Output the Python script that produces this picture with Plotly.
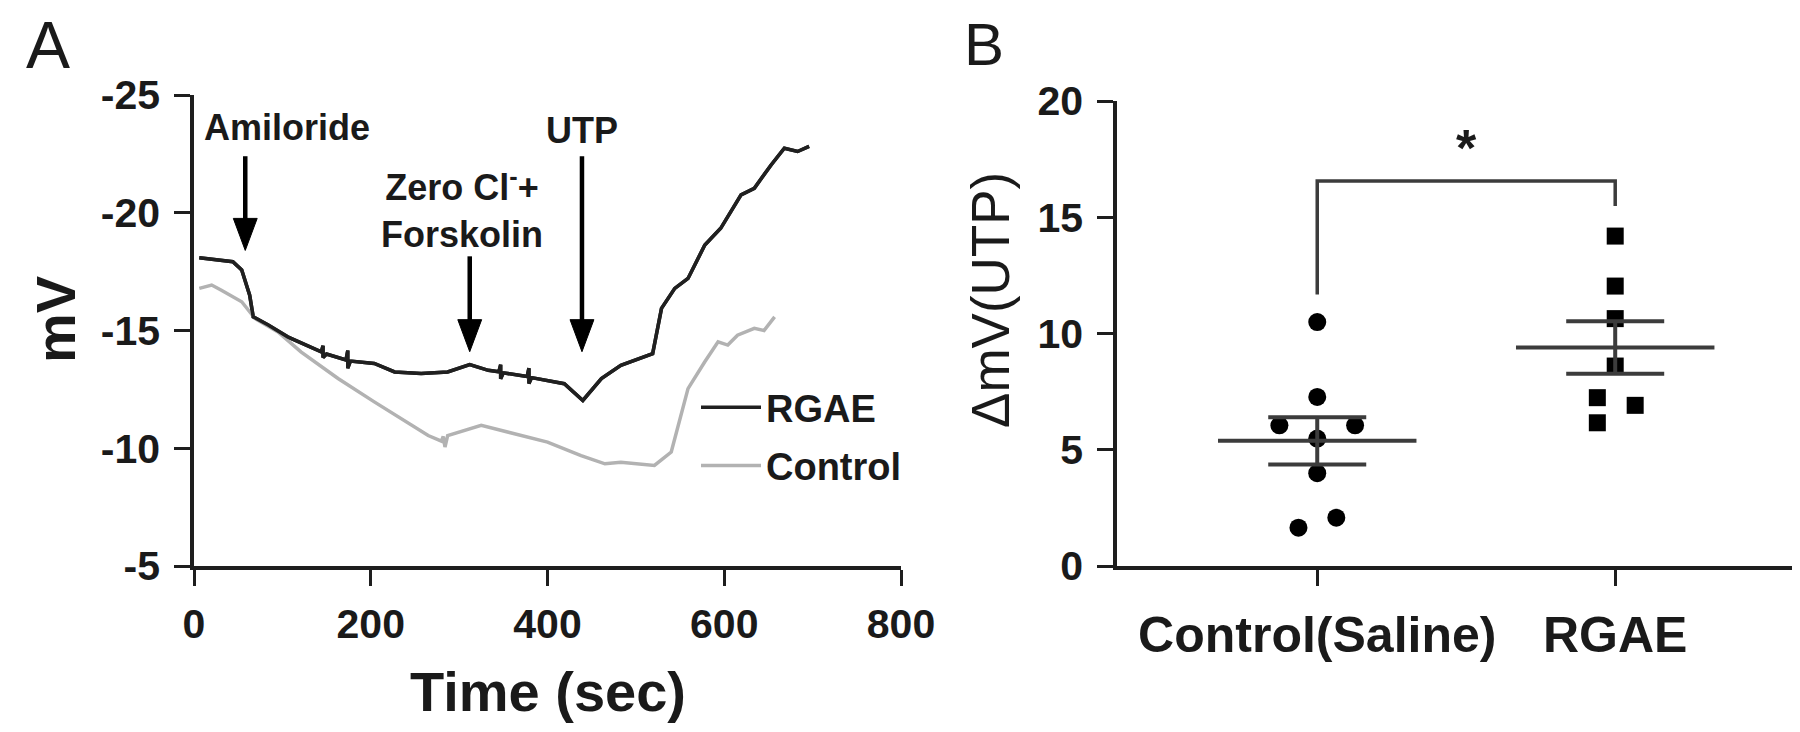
import numpy as np
import plotly.graph_objects as go

# ---------------- Panel A data (time in s, potential in mV) ----------------
rgae_t = [6, 44, 54, 63, 67, 84, 106, 144, 146, 146, 150, 172, 174, 174, 177,
          204, 227, 257, 287, 312, 333, 345, 347, 347, 350, 370, 377, 379, 379,
          382, 400, 419, 440, 461, 483, 519, 529, 544, 559, 578, 596, 619, 634,
          653, 668, 683, 696]
rgae_mv = [-18.09, -17.92, -17.57, -16.5, -15.58, -15.23, -14.73, -14.09, -14.35,
           -13.85, -14.0, -13.75, -14.15, -13.4, -13.7, -13.6, -13.24, -13.17,
           -13.24, -13.55, -13.31, -13.25, -13.55, -12.95, -13.2, -13.1, -13.05,
           -13.4, -12.75, -13.0, -12.89, -12.74, -12.03, -12.96, -13.52, -14.02,
           -15.94, -16.79, -17.21, -18.63, -19.34, -20.76, -21.04, -22.03, -22.74,
           -22.6, -22.82]

control_t = [6, 20, 31, 54, 69, 95, 121, 163, 204, 234, 265, 280, 282, 284, 287,
             325, 355, 400, 438, 465, 483, 521, 540, 549, 559, 578, 593, 604, 615,
             634, 645, 657]
control_mv = [-16.79, -16.93, -16.71, -16.22, -15.51, -14.94, -14.09, -12.96,
              -11.97, -11.26, -10.54, -10.3, -10.5, -10.05, -10.54, -10.97, -10.69,
              -10.26, -9.69, -9.34, -9.41, -9.27, -9.84, -11.11, -12.53, -13.67,
              -14.52, -14.38, -14.8, -15.09, -15.0, -15.58]

event_labels = ["Amiloride", "Zero Cl<sup>-</sup>+<br>Forskolin", "UTP"]
event_times = [58, 312, 439]
arrow_start_mv = [-22.4, -18.15, -22.4]
arrow_tip_mv = [-18.4, -14.1, -14.1]
label_t = [105, 303, 439]
label_mv = [-23.6, -20.2, -23.5]

a_xticks = [0, 200, 400, 600, 800]
a_xticktext = ["0", "200", "400", "600", "800"]
a_yticks = [-25, -20, -15, -10, -5]
a_yticktext = ["-25", "-20", "-15", "-10", "-5"]

# ---------------- Panel B data ----------------
groups = ["Control(Saline)", "RGAE"]
control_vals = [10.49, 7.27, 6.05, 6.05, 5.48, 3.99, 2.08, 1.65]
control_jitter = [0, 0, -0.127, 0.127, 0, 0, 0.064, -0.063]
rgae_vals = [14.19, 12.04, 10.64, 8.6, 7.24, 6.91, 6.16]
rgae_jitter = [0, 0, 0, 0, -0.06, 0.067, -0.06]
b_yticks = [0, 5, 10, 15, 20]
b_yticktext = ["0", "5", "10", "15", "20"]
bracket_y = [11.68, 16.56, 16.56, 15.48]
star_y = 18.0

FONT = "Liberation Sans, Arial, sans-serif"
AX = "#1e1e1e"
DARK = "#3c3c3c"
TXT = "#1a1a1a"

fig = go.Figure()

# ---- Panel A traces ----
fig.add_trace(go.Scatter(x=rgae_t, y=rgae_mv, mode="lines", name="RGAE",
                         line=dict(color="#202020", width=3.5), legendgroup="r",
                         legendrank=1, xaxis="x", yaxis="y"))
fig.add_trace(go.Scatter(x=control_t, y=control_mv, mode="lines", name="Control",
                         line=dict(color="#b2b2b2", width=3.5), legendgroup="c",
                         legendrank=2, xaxis="x", yaxis="y"))
# draw RGAE again on top of the grey trace (no legend entry)
fig.add_trace(go.Scatter(x=rgae_t, y=rgae_mv, mode="lines", showlegend=False,
                         line=dict(color="#202020", width=3.5), hoverinfo="skip",
                         xaxis="x", yaxis="y"))

head_hw = 13.5   # half width of arrow head in seconds
head_len = 1.36  # length of arrow head in mV
sx, sy = [], []
for t, s, tip in zip(event_times, arrow_start_mv, arrow_tip_mv):
    sx += [t, t, None]
    sy += [s, tip - head_len + 0.2, None]
fig.add_trace(go.Scatter(x=sx, y=sy, mode="lines", line=dict(color="black", width=4.5),
                         showlegend=False, hoverinfo="skip", xaxis="x", yaxis="y"))
for t, tip in zip(event_times, arrow_tip_mv):
    fig.add_trace(go.Scatter(x=[t - head_hw, t + head_hw, t, t - head_hw],
                             y=[tip - head_len, tip - head_len, tip, tip - head_len],
                             mode="lines", fill="toself", fillcolor="black",
                             line=dict(color="black", width=1), showlegend=False,
                             hoverinfo="skip", xaxis="x", yaxis="y"))

# ---- Panel B traces ----
fig.add_trace(go.Scatter(x=[0 + j for j in control_jitter], y=control_vals, mode="markers",
                         marker=dict(symbol="circle", size=18, color="black"),
                         showlegend=False, xaxis="x2", yaxis="y2"))
fig.add_trace(go.Scatter(x=[1 + j for j in rgae_jitter], y=rgae_vals, mode="markers",
                         marker=dict(symbol="square", size=17, color="black"),
                         showlegend=False, xaxis="x2", yaxis="y2"))

for i, vals in enumerate([control_vals, rgae_vals]):
    arr = np.array(vals)
    m = arr.mean()
    sem = arr.std(ddof=1) / np.sqrt(len(arr))
    fig.add_trace(go.Scatter(x=[i - 0.333, i + 0.333], y=[m, m], mode="lines",
                             line=dict(color=DARK, width=4), showlegend=False,
                             hoverinfo="skip", xaxis="x2", yaxis="y2"))
    fig.add_trace(go.Scatter(x=[i], y=[m], mode="markers",
                             marker=dict(size=1, color="rgba(0,0,0,0)"),
                             error_y=dict(type="data", array=[sem], symmetric=True,
                                          width=49, thickness=4, color=DARK),
                             showlegend=False, hoverinfo="skip", xaxis="x2", yaxis="y2"))

fig.add_trace(go.Scatter(x=[0, 0, 1, 1], y=bracket_y, mode="lines",
                         line=dict(color=DARK, width=3.5), showlegend=False,
                         hoverinfo="skip", xaxis="x2", yaxis="y2"))

# ---- Layout ----
tickfont = dict(family=FONT, size=41, color=TXT, weight="bold")
common = dict(showline=True, linecolor=AX, linewidth=3.5, ticks="outside", ticklen=16,
              tickwidth=3, tickcolor=AX, showgrid=False, zeroline=False,
              automargin=False)

ydom = [1 - 558 / 732, 1 - 87 / 732]
ydomB = [1 - 558 / 732, 1 - 93 / 732]

fig.update_layout(
    template="none",
    width=1800, height=732,
    margin=dict(l=0, r=0, t=0, b=0, pad=0, autoexpand=False),
    paper_bgcolor="white", plot_bgcolor="white",
    font=dict(family=FONT, color=TXT),
    xaxis=dict(domain=[186 / 1800, 893 / 1800], range=[0, 800], tickvals=a_xticks,
               ticktext=a_xticktext, anchor="y", tickfont=tickfont,
               ticklabelstandoff=3, **common),
    yaxis=dict(domain=ydom, range=[-5, -25], tickvals=a_yticks, ticktext=a_yticktext,
               anchor="x", tickfont=tickfont, ticklabelstandoff=6, **common),
    xaxis2=dict(domain=[1109 / 1800, 1.0], range=[-0.672, 1.647], tickvals=[0, 1],
                ticktext=groups, anchor="y2", ticklabelstandoff=6,
                tickfont=dict(family=FONT, size=50, color=TXT, weight="bold"), **common),
    yaxis2=dict(domain=ydomB, range=[0, 20], tickvals=b_yticks, ticktext=b_yticktext,
                anchor="x2", tickfont=tickfont, ticklabelstandoff=6, **common),
    showlegend=True,
    legend=dict(x=688 / 1800, y=1 - 368 / 732, xanchor="left", yanchor="top",
                font=dict(family=FONT, size=38, color=TXT, weight="bold"), borderwidth=0,
                bgcolor="rgba(0,0,0,0)", itemwidth=60, traceorder="grouped",
                tracegroupgap=6),
    hovermode=False,
)

ann = []
for txt, t, mv in zip(event_labels, label_t, label_mv):
    ann.append(dict(x=t, y=mv, xref="x", yref="y", text=txt, showarrow=False,
                    font=dict(family=FONT, size=36, color=TXT, weight="bold"),
                    xanchor="center", yanchor="middle", align="center"))
ann += [
    dict(x=0.5, y=star_y, xref="x2", yref="y2", text="*", showarrow=False,
         font=dict(family=FONT, size=52, color=TXT, weight="bold"), yanchor="middle"),
    dict(x=540 / 1800, y=1 - 683 / 732, xref="paper", yref="paper", text="Time (sec)",
         showarrow=False, font=dict(family=FONT, size=56, color=TXT, weight="bold"),
         xanchor="center", yanchor="middle"),
    dict(x=47 / 1800, y=1 - 312 / 732, xref="paper", yref="paper", text="mV",
         showarrow=False, textangle=-90,
         font=dict(family=FONT, size=56, color=TXT, weight="bold"),
         xanchor="center", yanchor="middle"),
    dict(x=982 / 1800, y=1 - 292 / 732, xref="paper", yref="paper", text="ΔmV(UTP)",
         showarrow=False, textangle=-90, font=dict(family=FONT, size=53, color=TXT),
         xanchor="center", yanchor="middle"),
    dict(x=40 / 1800, y=1 - 37 / 732, xref="paper", yref="paper", text="A",
         showarrow=False, font=dict(family=FONT, size=66, color=TXT),
         xanchor="center", yanchor="middle"),
    dict(x=976 / 1800, y=1 - 36 / 732, xref="paper", yref="paper", text="B",
         showarrow=False, font=dict(family=FONT, size=60, color=TXT),
         xanchor="center", yanchor="middle"),
]
fig.update_layout(annotations=ann)

fig.write_html("out.html")
